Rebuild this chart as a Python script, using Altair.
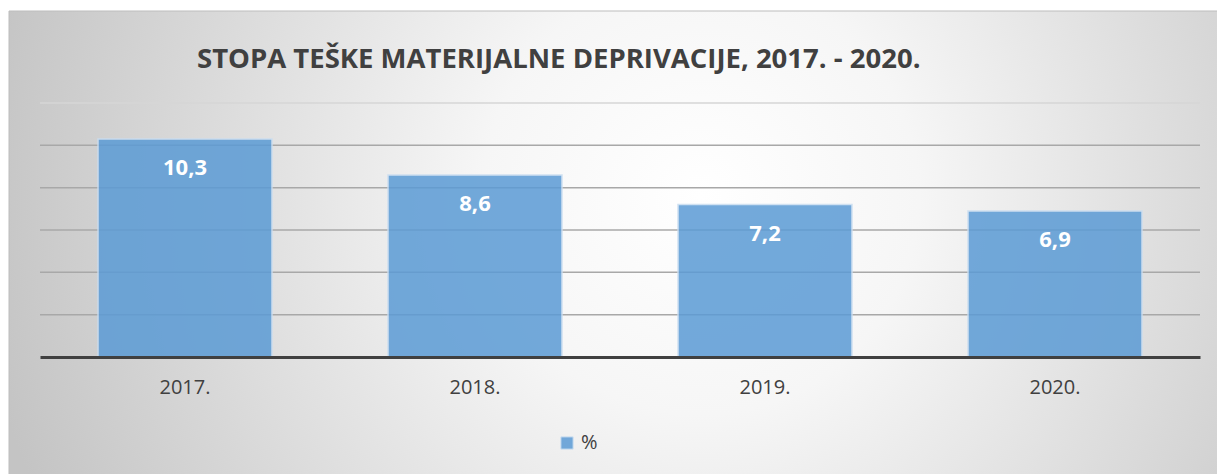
import altair as alt
import pandas as pd

years = ["2017.", "2018.", "2019.", "2020."]
values = [10.3, 8.6, 7.2, 6.9]
series = ["%", "%", "%", "%"]
grid_values = [2, 4, 6, 8, 10, 12]
title_text = ["STOPA TEŠKE MATERIJALNE DEPRIVACIJE, 2017. - 2020."]

df = pd.DataFrame({"year": years, "value": values, "series": series})
grid_df = pd.DataFrame({"g": grid_values})

W, H = 1160, 254
PAD_L, PAD_T, PAD_R, PAD_B = 40, 103, 17, 117

FONT = "Open Sans"
DARK = "#404040"

bg = alt.Chart(pd.DataFrame({"a": [0]})).mark_rect(
    fill={
        "gradient": "radial",
        "x1": 0.57, "y1": 0.46, "r1": 0,
        "x2": 0.57, "y2": 0.46, "r2": 0.6,
        "stops": [
            {"offset": 0, "color": "#ffffff"},
            {"offset": 0.3, "color": "#f6f6f6"},
            {"offset": 1, "color": "#c4c4c4"},
        ],
    },
    stroke="#bdbdbd",
    strokeWidth=1,
).encode(
    x=alt.value(9 - PAD_L),
    x2=alt.value(1217 - PAD_L + 5),
    y=alt.value(11 - PAD_T),
    y2=alt.value(474 - PAD_T + 5),
)

title = alt.Chart(pd.DataFrame({"t": title_text})).mark_text(
    font=FONT,
    fontSize=27.5,
    fontWeight="bold",
    color=DARK,
    align="left",
    baseline="middle",
).encode(
    text="t:N",
    x=alt.value(197 - PAD_L),
    y=alt.value(60 - PAD_T),
)

yscale = alt.Scale(domain=[0, 12], nice=False)

grid = alt.Chart(grid_df).mark_rule(strokeWidth=1.5).encode(
    y=alt.Y("g:Q", scale=yscale, axis=None),
    x=alt.value(0),
    x2=alt.value(W),
    color=alt.condition("datum.g == 12", alt.value("#d6d6d6"), alt.value("#a8a8a8")),
)

base = alt.Chart(df).encode(
    x=alt.X(
        "year:N",
        sort=years,
        scale=alt.Scale(paddingInner=0.4, paddingOuter=0.2),
        axis=alt.Axis(
            title=None,
            labelAngle=0,
            ticks=False,
            domainColor=DARK,
            domainWidth=3,
            labelColor=DARK,
            labelFont=FONT,
            labelFontSize=20,
            labelPadding=20,
            zindex=1,
        ),
    ),
    y=alt.Y("value:Q", scale=yscale, axis=None),
)

bars = base.mark_bar(
    opacity=0.85,
    stroke="#c9ddf1",
    strokeWidth=1.5,
).encode(
    color=alt.Color(
        "series:N",
        scale=alt.Scale(range=["#5b9bd5"]),
        legend=alt.Legend(
            title=None,
            orient="none",
            legendX=509,
            legendY=322,
            symbolType="square",
            symbolSize=150,
            symbolStrokeColor="#c9ddf1",
            symbolStrokeWidth=1,
            labelFont=FONT,
            labelFontSize=20,
            labelOffset=4,
            labelColor=DARK,
            padding=8,
        ),
    )
)

labels = base.transform_calculate(
    label="replace(format(datum.value, '.1f'), '.', ',')"
).mark_text(
    color="white",
    font=FONT,
    fontWeight="bold",
    fontSize=22,
    baseline="middle",
    dy=29,
).encode(text="label:N")

chart = alt.layer(bg, grid, bars, labels, title).properties(
    width=W,
    height=H,
    padding={"left": PAD_L, "top": PAD_T, "right": PAD_R, "bottom": PAD_B},
    autosize=alt.AutoSizeParams(type="none"),
    background="white",
).configure_view(stroke=None)

chart.save("out.html", embed_options={"renderer": "svg", "actions": False})
